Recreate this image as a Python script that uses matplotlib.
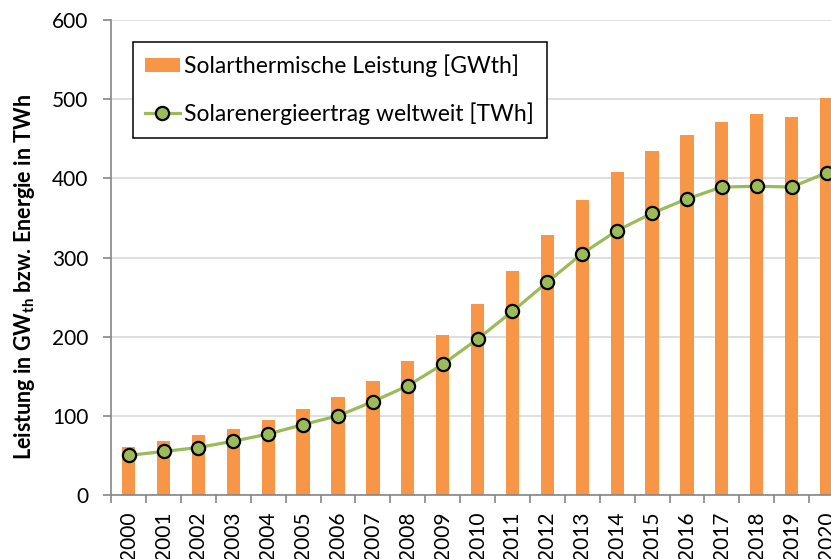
import matplotlib.pyplot as plt
import numpy as np

# Solar thermal capacity and yield worldwide, 2000-2020
years = [str(y) for y in range(2000, 2021)]
leistung_gwth = [61, 68, 76, 84, 95, 109, 124, 144, 169, 202, 241,
                 283, 329, 373, 408, 435, 455, 471, 481, 478, 501]
ertrag_twh = [50, 55, 60, 68, 77, 89, 100, 118, 138, 165, 197,
              232, 269, 305, 334, 356, 374, 389, 390, 389, 407]
y_ticks = [0, 100, 200, 300, 400, 500, 600]

ORANGE = '#F79646'
GREEN = '#9BBB59'
GRID = '#D9D9D9'
AXIS = '#868686'
FONT = 'Lato'

plt.rcParams['mathtext.default'] = 'regular'

W, H = 831, 559
fig = plt.figure(figsize=(W / 100, H / 100), dpi=100)

# plot area runs a little past the right edge of the figure
left, right, top, bottom = 111.2, 844.0, 20.0, 495.0
ax = fig.add_axes([left / W, 1 - bottom / H, (right - left) / W, (bottom - top) / H])

x = np.arange(len(years))
bars = ax.bar(x, leistung_gwth, width=0.38, color=ORANGE, zorder=2,
              label='Solarthermische Leistung [GWth]')
line, = ax.plot(x, ertrag_twh, color=GREEN, lw=2.3, marker='o', markersize=9.5,
                markerfacecolor=GREEN, markeredgecolor='black', markeredgewidth=1.6,
                zorder=3, label='Solarenergieertrag weltweit [TWh]')

ax.set_xlim(-0.5, len(years) - 0.5)
ax.set_ylim(0, 600)
ax.set_yticks(y_ticks)
ax.yaxis.grid(True, color=GRID, lw=1.2, zorder=0)
ax.set_axisbelow(True)

ax.set_xticks(x)
ax.set_xticklabels(years, rotation=90, fontfamily=FONT, fontsize=15)
ax.set_xticks(np.arange(-0.5, len(years)), minor=True)
ax.tick_params(axis='x', which='major', length=0, pad=12)
ax.tick_params(axis='x', which='minor', length=6, width=1.2, color=AXIS)
ax.tick_params(axis='y', length=6, width=1.2, color=AXIS, pad=10.5)
for lab in ax.get_yticklabels():
    lab.set_fontfamily(FONT)
    lab.set_fontsize(15)

for side in ('top', 'right'):
    ax.spines[side].set_visible(False)
for side in ('left', 'bottom'):
    ax.spines[side].set_color(AXIS)
    ax.spines[side].set_linewidth(1.2)

leg = ax.legend(handles=[bars, line], loc='upper left',
                bbox_to_anchor=(0.0293, 0.954), borderaxespad=0,
                prop={'family': FONT, 'size': 16.5}, frameon=True,
                fancybox=False, edgecolor='black', framealpha=1,
                handlelength=1.5, handleheight=0.6, handletextpad=0.2,
                borderpad=0.55, labelspacing=1.1)
leg.get_frame().set_linewidth(1.1)

fig.text(25 / W, 1 - 277 / H, 'Leistung in GW$_{th}$ bzw. Energie in TWh',
         rotation=90, ha='center', va='center', fontfamily=FONT,
         fontweight='bold', fontsize=15.5)

fig.savefig('out.png', dpi=100)
